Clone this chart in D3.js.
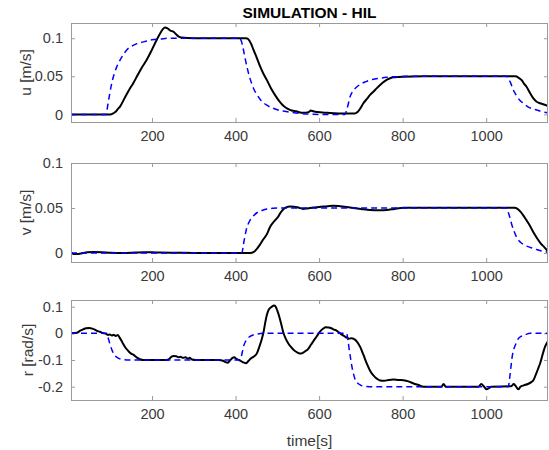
<!DOCTYPE html>
<html>
<head>
<meta charset="utf-8">
<script src="https://cdn.jsdelivr.net/npm/d3@7"></script>
<style>
  body { margin: 0; background: #fff; }
  svg { display: block; font-family: "Liberation Sans", Arial, sans-serif; }
</style>
</head>
<body>
<svg id="chart" width="549" height="450"></svg>
<script>
// time span shown on every panel
const timeDomain = [6, 1148];
const timeTicks = [200, 400, 600, 800, 1000];

// u [m/s] : reference (blue dashed) and measured (black)
const uRefTime = [6, 90, 94, 99, 104, 110, 116, 124, 132, 140, 150, 160, 171, 185, 200, 220, 240, 300, 410, 414, 418, 422, 427, 432, 437, 443, 450, 460, 475, 490, 507, 530, 560, 600, 662, 666, 670, 674, 680, 690, 700, 712, 722, 740, 762, 790, 820, 1048, 1053, 1058, 1065, 1072, 1080, 1089, 1100, 1110, 1121, 1135, 1148];
const uRef = [0, 0, 0.012, 0.028, 0.042, 0.054, 0.063, 0.072, 0.079, 0.085, 0.089, 0.092, 0.094, 0.096, 0.098, 0.099, 0.1, 0.1, 0.1, 0.096, 0.087, 0.076, 0.063, 0.052, 0.043, 0.034, 0.027, 0.019, 0.012, 0.008, 0.005, 0.003, 0.001, 0, 0, 0.006, 0.014, 0.023, 0.03, 0.036, 0.04, 0.043, 0.045, 0.047, 0.0487, 0.0495, 0.05, 0.05, 0.047, 0.042, 0.032, 0.025, 0.019, 0.0146, 0.01, 0.0075, 0.0058, 0.0035, 0.002];
const uMeasTime = [6, 100, 106, 112, 118, 123, 135, 145, 155, 165, 175, 187, 198, 211, 220, 226, 231, 237, 244, 251, 258, 264, 270, 300, 350, 400, 425, 430, 437, 443, 451, 459, 467, 475, 485, 495, 505, 515, 530, 545, 562, 575, 580, 586, 595, 620, 660, 685, 692, 700, 706, 714, 722, 734, 746, 758, 770, 778, 786, 800, 850, 1000, 1070, 1078, 1085, 1091, 1097, 1105, 1113, 1120, 1129, 1138, 1148];
const uMeas = [0, 0, 0.001, 0.003, 0.007, 0.01, 0.022, 0.032, 0.041, 0.051, 0.061, 0.0714, 0.083, 0.0977, 0.107, 0.112, 0.114, 0.113, 0.11, 0.1086, 0.105, 0.102, 0.101, 0.1, 0.1, 0.1, 0.1, 0.099, 0.093, 0.0846, 0.074, 0.0627, 0.053, 0.045, 0.034, 0.025, 0.017, 0.011, 0.006, 0.004, 0.002, 0.003, 0.005, 0.004, 0.003, 0.002, 0.001, 0.001, 0.003, 0.009, 0.0146, 0.02, 0.0255, 0.032, 0.0386, 0.044, 0.0474, 0.0487, 0.049, 0.0495, 0.05, 0.05, 0.05, 0.048, 0.045, 0.04, 0.036, 0.028, 0.021, 0.017, 0.0146, 0.013, 0.011];

// v [m/s]
const vRefTime = [6, 415, 419, 423, 427, 432, 437, 443, 452, 462, 475, 490, 510, 1049, 1053, 1057, 1061, 1067, 1073, 1082, 1093, 1105, 1120, 1135, 1148];
const vRef = [0, 0, 0.01, 0.02, 0.0284, 0.034, 0.038, 0.0414, 0.045, 0.047, 0.049, 0.0497, 0.05, 0.05, 0.045, 0.039, 0.032, 0.024, 0.0174, 0.012, 0.0085, 0.0063, 0.004, 0.002, 0.001];
const vMeasTime = [6, 12, 20, 30, 45, 60, 80, 100, 130, 160, 180, 200, 220, 260, 300, 350, 400, 435, 443, 450, 458, 466, 475, 482, 492, 503, 508, 515, 522, 530, 540, 550, 562, 572, 586, 600, 620, 634, 650, 674, 700, 722, 745, 762, 780, 802, 850, 1000, 1068, 1075, 1082, 1090, 1097, 1105, 1113, 1121, 1130, 1140, 1148];
const vMeas = [0, -0.001, -0.0012, -0.0005, 0.0008, 0.001, 0.0008, 0.0003, 0, 0.0005, 0.0009, 0.0008, 0.0005, 0.0003, 0, 0, 0, 0, 0.001, 0.004, 0.009, 0.015, 0.021, 0.0284, 0.035, 0.041, 0.045, 0.049, 0.051, 0.0518, 0.0515, 0.0505, 0.049, 0.0495, 0.0505, 0.051, 0.052, 0.0526, 0.052, 0.0505, 0.049, 0.0478, 0.0476, 0.0478, 0.049, 0.0502, 0.0502, 0.0502, 0.0502, 0.049, 0.046, 0.041, 0.036, 0.03, 0.023, 0.017, 0.011, 0.006, 0.002];

// r [rad/s]
const rRefTime = [6, 91, 94, 97, 100, 104, 108, 112, 117, 124, 131, 145, 411, 414, 417, 420, 424, 428, 434, 442, 451, 465, 666, 669, 672, 675, 678, 682, 686, 692, 699, 706, 720, 1053, 1056, 1059, 1062, 1066, 1071, 1077, 1085, 1095, 1105, 1148];
const rRef = [0, 0, -0.012, -0.028, -0.045, -0.062, -0.076, -0.085, -0.091, -0.096, -0.098, -0.1, -0.1, -0.085, -0.065, -0.045, -0.03, -0.02, -0.012, -0.006, -0.003, 0, 0, -0.025, -0.06, -0.09, -0.12, -0.15, -0.172, -0.186, -0.194, -0.198, -0.2, -0.2, -0.17, -0.13, -0.09, -0.06, -0.04, -0.02, -0.01, -0.004, 0, 0];
const rMeasTime = [6, 20, 28, 35, 42, 50, 58, 63, 67, 75, 83, 90, 95, 99, 104, 108, 113, 118, 122, 127, 131, 137, 143, 149, 155, 163, 171, 180, 200, 235, 242, 247, 252, 258, 263, 268, 274, 280, 286, 290, 296, 305, 360, 370, 376, 381, 386, 392, 397, 402, 408, 414, 420, 425, 430, 436, 443, 451, 457, 463, 467, 471, 475, 480, 487, 492, 496, 500, 506, 510, 514, 520, 526, 532, 540, 546, 554, 560, 566, 574, 580, 586, 594, 602, 610, 616, 622, 628, 634, 640, 646, 652, 660, 666, 672, 678, 684, 690, 698, 706, 714, 722, 730, 738, 746, 756, 766, 778, 790, 802, 814, 826, 838, 850, 893, 898, 903, 982, 988, 995, 1001, 1007, 1012, 1060, 1066, 1070, 1077, 1082, 1090, 1100, 1108, 1113, 1120, 1125, 1129, 1135, 1141, 1148];
const rMeas = [0, 0.002, 0.01, 0.015, 0.019, 0.02, 0.017, 0.014, 0.01, 0.006, 0.001, -0.002, -0.006, -0.004, -0.008, -0.005, -0.01, -0.006, -0.015, -0.028, -0.04, -0.055, -0.066, -0.075, -0.08, -0.09, -0.097, -0.1, -0.1, -0.1, -0.095, -0.087, -0.085, -0.086, -0.09, -0.088, -0.092, -0.09, -0.095, -0.092, -0.098, -0.1, -0.1, -0.103, -0.108, -0.11, -0.103, -0.093, -0.09, -0.096, -0.1, -0.105, -0.11, -0.112, -0.105, -0.095, -0.088, -0.075, -0.05, -0.02, 0.005, 0.04, 0.07, 0.09, 0.1, 0.104, 0.1, 0.085, 0.055, 0.03, 0.005, -0.02, -0.037, -0.05, -0.063, -0.07, -0.076, -0.074, -0.068, -0.058, -0.044, -0.03, -0.012, 0.006, 0.018, 0.023, 0.022, 0.02, 0.015, 0.012, 0.005, -0.002, -0.01, -0.016, -0.02, -0.018, -0.022, -0.03, -0.05, -0.08, -0.113, -0.14, -0.158, -0.17, -0.177, -0.178, -0.175, -0.173, -0.175, -0.176, -0.18, -0.188, -0.194, -0.2, -0.2, -0.19, -0.2, -0.2, -0.19, -0.2, -0.21, -0.205, -0.2, -0.198, -0.19, -0.196, -0.21, -0.2, -0.195, -0.19, -0.183, -0.176, -0.15, -0.13, -0.113, -0.08, -0.05, -0.03, -0.02];

const uTicks = [0, 0.05, 0.1];
const vTicks = [0, 0.05, 0.1];
const rTicks = [-0.2, -0.1, 0, 0.1];

const svg = d3.select('#chart');
const left = 71, right = 548;
const boxColor = '#9a9a9a';
const textColor = '#3a3a3a';
const tickLen = 4;

const x = d3.scaleLinear().domain(timeDomain).range([left, right]);

const zip = (ts, vs) => ts.map((t, i) => ({ t, v: vs[i] }));

const panels = [
    { top: 23, bottom: 122, domain: [-0.01, 0.12], ticks: uTicks, label: 'u [m/s]', labelX: 31,
      ref: zip(uRefTime, uRef), meas: zip(uMeasTime, uMeas) },
    { top: 163, bottom: 262, domain: [-0.01, 0.1], ticks: vTicks, label: 'v [m/s]', labelX: 31,
      ref: zip(vRefTime, vRef), meas: zip(vMeasTime, vMeas) },
    { top: 300, bottom: 400, domain: [-0.25, 0.125], ticks: rTicks, label: 'r [rad/s]', labelX: 33,
      ref: zip(rRefTime, rRef), meas: zip(rMeasTime, rMeas) }
];

panels.forEach((p, i) => {
    const y = d3.scaleLinear().domain(p.domain).range([p.bottom, p.top]);
    const g = svg.append('g');

    const clipId = `clip${i}`;
    svg.append('clipPath').attr('id', clipId)
        .append('rect')
        .attr('x', left).attr('y', p.top)
        .attr('width', right - left).attr('height', p.bottom - p.top);

    // bottom axis with labels, inward ticks
    g.append('g')
        .attr('transform', `translate(0,${p.bottom})`)
        .call(d3.axisBottom(x).tickValues(timeTicks).tickSizeInner(-tickLen).tickSizeOuter(0).tickPadding(9).tickFormat(d3.format('d')))
        .call(a => a.select('.domain').remove());
    // top axis, ticks only
    g.append('g')
        .attr('transform', `translate(0,${p.top})`)
        .call(d3.axisTop(x).tickValues(timeTicks).tickSizeInner(-tickLen).tickSizeOuter(0).tickFormat(''))
        .call(a => a.select('.domain').remove());
    // left axis with labels
    g.append('g')
        .attr('transform', `translate(${left},0)`)
        .call(d3.axisLeft(y).tickValues(p.ticks).tickSizeInner(-tickLen).tickSizeOuter(0).tickPadding(8).tickFormat(d => String(d)))
        .call(a => a.select('.domain').remove());
    // right axis, ticks only
    g.append('g')
        .attr('transform', `translate(${right},0)`)
        .call(d3.axisRight(y).tickValues(p.ticks).tickSizeInner(-tickLen).tickSizeOuter(0).tickFormat(''))
        .call(a => a.select('.domain').remove());

    g.selectAll('.tick line').attr('stroke', boxColor);
    g.selectAll('.tick text').attr('fill', textColor).style('font-size', '14.5px');

    const line = d3.line()
        .x(d => x(d.t))
        .y(d => y(d.v))
        .curve(d3.curveMonotoneX);

    const plot = svg.append('g').attr('clip-path', `url(#${clipId})`);
    plot.append('path')
        .datum(p.meas)
        .attr('d', line)
        .attr('fill', 'none')
        .attr('stroke', '#000')
        .attr('stroke-width', 2)
        .attr('stroke-linejoin', 'round');
    plot.append('path')
        .datum(p.ref)
        .attr('d', line)
        .attr('fill', 'none')
        .attr('stroke', '#0000ff')
        .attr('stroke-width', 1.5)
        .attr('stroke-dasharray', '6,4');

    // box
    svg.append('rect')
        .attr('x', left + 0.5).attr('y', p.top + 0.5)
        .attr('width', right - left - 1).attr('height', p.bottom - p.top)
        .attr('fill', 'none')
        .attr('stroke', boxColor)
        .attr('stroke-width', 1);

    svg.append('text')
        .attr('transform', `translate(${p.labelX},${(p.top + p.bottom) / 2}) rotate(-90)`)
        .attr('text-anchor', 'middle')
        .attr('fill', textColor)
        .style('font-size', '15.5px')
        .text(p.label);
});

svg.append('text')
    .attr('x', (left + right) / 2)
    .attr('y', 18)
    .attr('text-anchor', 'middle')
    .attr('fill', '#000')
    .style('font-size', '15.5px')
    .style('font-weight', 'bold')
    .text('SIMULATION - HIL');

svg.append('text')
    .attr('x', (left + right) / 2)
    .attr('y', 446)
    .attr('text-anchor', 'middle')
    .attr('fill', textColor)
    .style('font-size', '15.5px')
    .text('time[s]');
</script>
</body>
</html>
